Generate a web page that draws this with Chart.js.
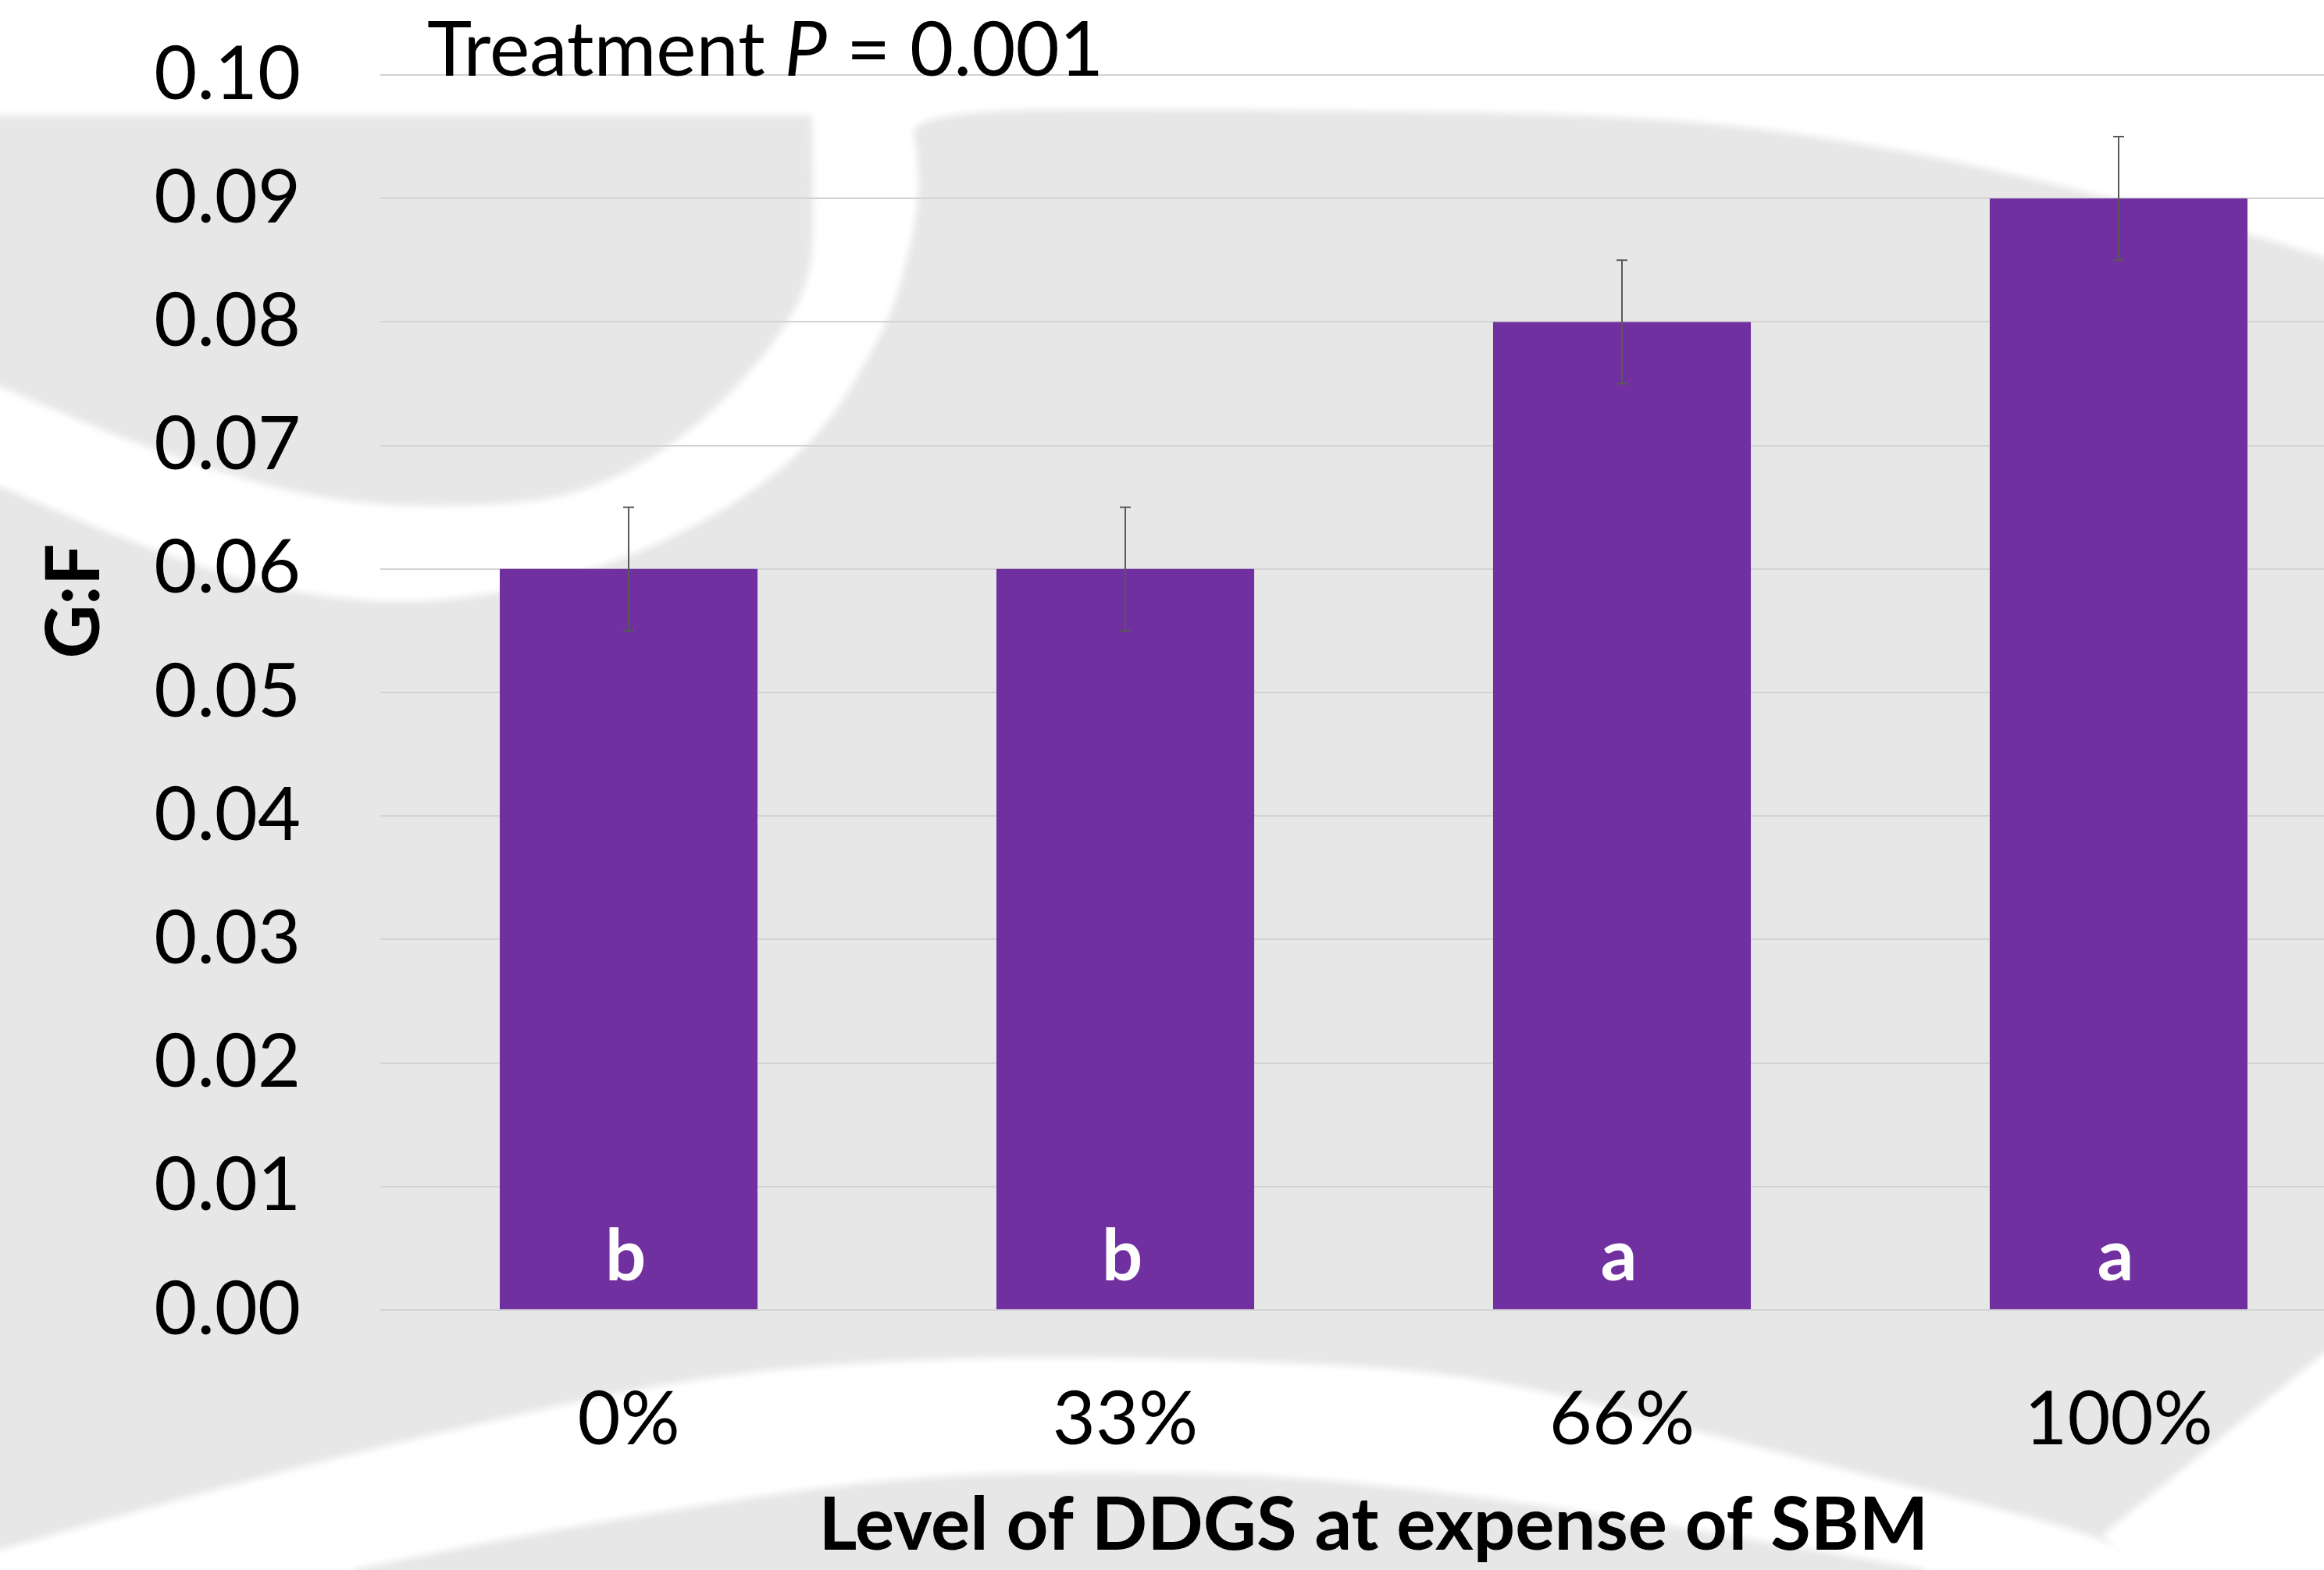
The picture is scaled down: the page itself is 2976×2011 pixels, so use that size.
<!DOCTYPE html>
<html><head><meta charset="utf-8">
<script src="https://cdn.jsdelivr.net/npm/chart.js@4/dist/chart.umd.min.js"></script>
<style>
html,body{margin:0;padding:0;overflow:hidden;background:#e7e7e7;width:2976px;height:2011px;}
#wrap{position:absolute;left:0;top:0;width:3031px;height:2011px;}
</style></head><body>
<div id="wrap"><canvas id="c"></canvas></div>
<script>
// ---- data ----
const categories = ['0%', '33%', '66%', '100%'];
const gfValues = [0.06, 0.06, 0.08, 0.09];
const gfErrors = [0.005, 0.005, 0.005, 0.005];
const sigLetters = ['b', 'b', 'a', 'a'];
const yTicks = [0.00, 0.01, 0.02, 0.03, 0.04, 0.05, 0.06, 0.07, 0.08, 0.09, 0.10];
const annoPre = 'Treatment ';
const annoItalic = 'P';
const annoPost = ' = 0.001';
const xTitle = 'Level of DDGS at expense of SBM';
const yTitle = 'G:F';

// ---- styles ----
const FONT = 'Lato';
const BAR_COLOR = '#7030a0';
const GRID_COLOR = '#d3d3d3';
const BG_GRAY = '#e7e7e7';

// background watermark (decorative, not data)
const wmTopWhite = [[3031,345],[2976,330],[2894,303],[2655,241],[2416,187],[2117,147],[1600,140],[1166,140],[1175,200],[1177,259],[1160,340],[1136,419],[1036,585],[829,712],[580,776],[373,763],[180,700],[0,623]];
const wmBlob = [[1040,148],[1042,250],[1040,355],[995,438],[896,546],[780,620],[663,648],[431,648],[200,580],[0,495]];
const wmArchOuter = [[0,1985],[300,1900],[569,1833],[900,1760],[1233,1737],[1600,1742],[1897,1760],[2187,1837],[2450,1905],[2691,1967],[2760,2011]];
const wmArchInner = [[2467,2011],[2100,1945],[1708,1893],[1450,1885],[1138,1890],[700,1960],[450,2011]];

function smooth(ctx, pts, startWithLine) {
  if (startWithLine) ctx.lineTo(pts[0][0], pts[0][1]); else ctx.moveTo(pts[0][0], pts[0][1]);
  for (let i = 1; i < pts.length - 1; i++) {
    const mx = (pts[i][0] + pts[i+1][0]) / 2, my = (pts[i][1] + pts[i+1][1]) / 2;
    ctx.quadraticCurveTo(pts[i][0], pts[i][1], mx, my);
  }
  const l = pts[pts.length-1];
  ctx.lineTo(l[0], l[1]);
}

const bgPlugin = {
  id: 'bg',
  beforeDraw(chart) {
    const ctx = chart.ctx, W = chart.width, H = chart.height;
    ctx.save();
    ctx.fillStyle = BG_GRAY;
    ctx.fillRect(0, 0, W, H);
    ctx.filter = 'blur(5px)';
    ctx.fillStyle = '#ffffff';
    ctx.beginPath();
    ctx.moveTo(-20, -20); ctx.lineTo(W + 20, -20);
    smooth(ctx, wmTopWhite, true);
    ctx.lineTo(-20, 623);
    ctx.closePath(); ctx.fill();
    ctx.fillStyle = BG_GRAY;
    ctx.beginPath();
    ctx.moveTo(-20, 148);
    smooth(ctx, wmBlob, true);
    ctx.lineTo(-20, 495);
    ctx.closePath(); ctx.fill();
    ctx.fillStyle = '#ffffff';
    ctx.beginPath();
    ctx.moveTo(-20, 1990);
    smooth(ctx, wmArchOuter, true);
    ctx.lineTo(2760, H + 20);
    ctx.lineTo(2467, H + 20);
    smooth(ctx, wmArchInner, true);
    ctx.lineTo(450, H + 20);
    ctx.lineTo(-20, H + 20);
    ctx.closePath(); ctx.fill();
    ctx.beginPath();
    ctx.moveTo(W + 20, 1715);
    ctx.lineTo(2976, 1733);
    ctx.lineTo(2691, 1967);
    ctx.lineTo(2760, H + 20);
    ctx.lineTo(W + 20, H + 20);
    ctx.closePath(); ctx.fill();
    ctx.restore();
  }
};

const overlayPlugin = {
  id: 'overlay',
  afterDatasetsDraw(chart) {
    const ctx = chart.ctx;
    const y = chart.scales.y;
    const meta = chart.getDatasetMeta(0);
    ctx.save();
    ctx.strokeStyle = '#595959';
    ctx.lineWidth = 2;
    meta.data.forEach((bar, i) => {
      const v = gfValues[i], e = gfErrors[i];
      const yt = y.getPixelForValue(v + e), yb = y.getPixelForValue(v - e);
      const x = bar.x, cap = 7;
      ctx.beginPath();
      ctx.moveTo(x, yt); ctx.lineTo(x, yb);
      ctx.moveTo(x - cap, yt); ctx.lineTo(x + cap, yt);
      ctx.moveTo(x - cap, yb); ctx.lineTo(x + cap, yb);
      ctx.stroke();
    });
    ctx.fillStyle = '#ffffff';
    ctx.font = 'bold 92px ' + FONT;
    ctx.textAlign = 'center';
    ctx.textBaseline = 'alphabetic';
    const base = y.getPixelForValue(0);
    meta.data.forEach((bar, i) => {
      ctx.fillText(sigLetters[i], bar.x - 4, base - 38);
    });
    ctx.restore();
  },
  afterDraw(chart) {
    const ctx = chart.ctx;
    const y = chart.scales.y;
    ctx.save();
    ctx.fillStyle = '#000000';
    ctx.translate(96, 770);
    ctx.rotate(-Math.PI / 2);
    ctx.font = 'bold 95px ' + FONT;
    ctx.textAlign = 'center';
    ctx.textBaseline = 'middle';
    ctx.fillText(yTitle, 0, 0);
    ctx.restore();
    ctx.save();
    ctx.fillStyle = '#000000';
    ctx.textAlign = 'left';
    ctx.textBaseline = 'alphabetic';
    let x = 547;
    const by = y.getPixelForValue(0.10) + 1;
    const fs = '97px ';
    ctx.font = fs + FONT;
    ctx.fillText(annoPre, x, by); x += ctx.measureText(annoPre).width;
    ctx.font = 'italic ' + fs + FONT;
    ctx.fillText(annoItalic, x, by); x += ctx.measureText(annoItalic).width;
    ctx.font = fs + FONT;
    ctx.fillText(annoPost, x, by);
    ctx.restore();
  }
};

new Chart(document.getElementById('c'), {
  type: 'bar',
  data: {
    labels: categories,
    datasets: [{
      data: gfValues,
      backgroundColor: BAR_COLOR,
      borderWidth: 0,
      categoryPercentage: 1.0,
      barPercentage: 0.519
    }]
  },
  options: {
    responsive: true,
    maintainAspectRatio: false,
    animation: false,
    devicePixelRatio: 1,
    layout: { padding: { top: 96, left: 0, right: 0, bottom: 0 } },
    plugins: { legend: { display: false }, tooltip: { enabled: false } },
    scales: {
      x: {
        grid: { display: false },
        border: { display: false },
        ticks: { color: '#000', font: { family: FONT, size: 95 }, padding: 76, maxRotation: 0, autoSkip: false },
        title: { display: true, text: xTitle, color: '#000', font: { family: FONT, size: 94, weight: 'bold' }, padding: { top: 0, bottom: 0 } },
        afterFit(s) { s.height = 333; s.paddingLeft = 0; s.paddingRight = 0; }
      },
      y: {
        min: 0, max: 0.1,
        grid: { color: GRID_COLOR, lineWidth: 2, drawTicks: false },
        border: { display: false },
        ticks: { color: '#000', font: { family: FONT, size: 95 }, padding: 102, callback: v => Number(v).toFixed(2) },
        afterBuildTicks(s) { s.ticks = yTicks.map(v => ({ value: v })); },
        afterFit(s) { s.width = 487; s.paddingTop = 0; s.paddingBottom = 0; }
      }
    }
  },
  plugins: [bgPlugin, overlayPlugin]
});
</script>
</body></html>
